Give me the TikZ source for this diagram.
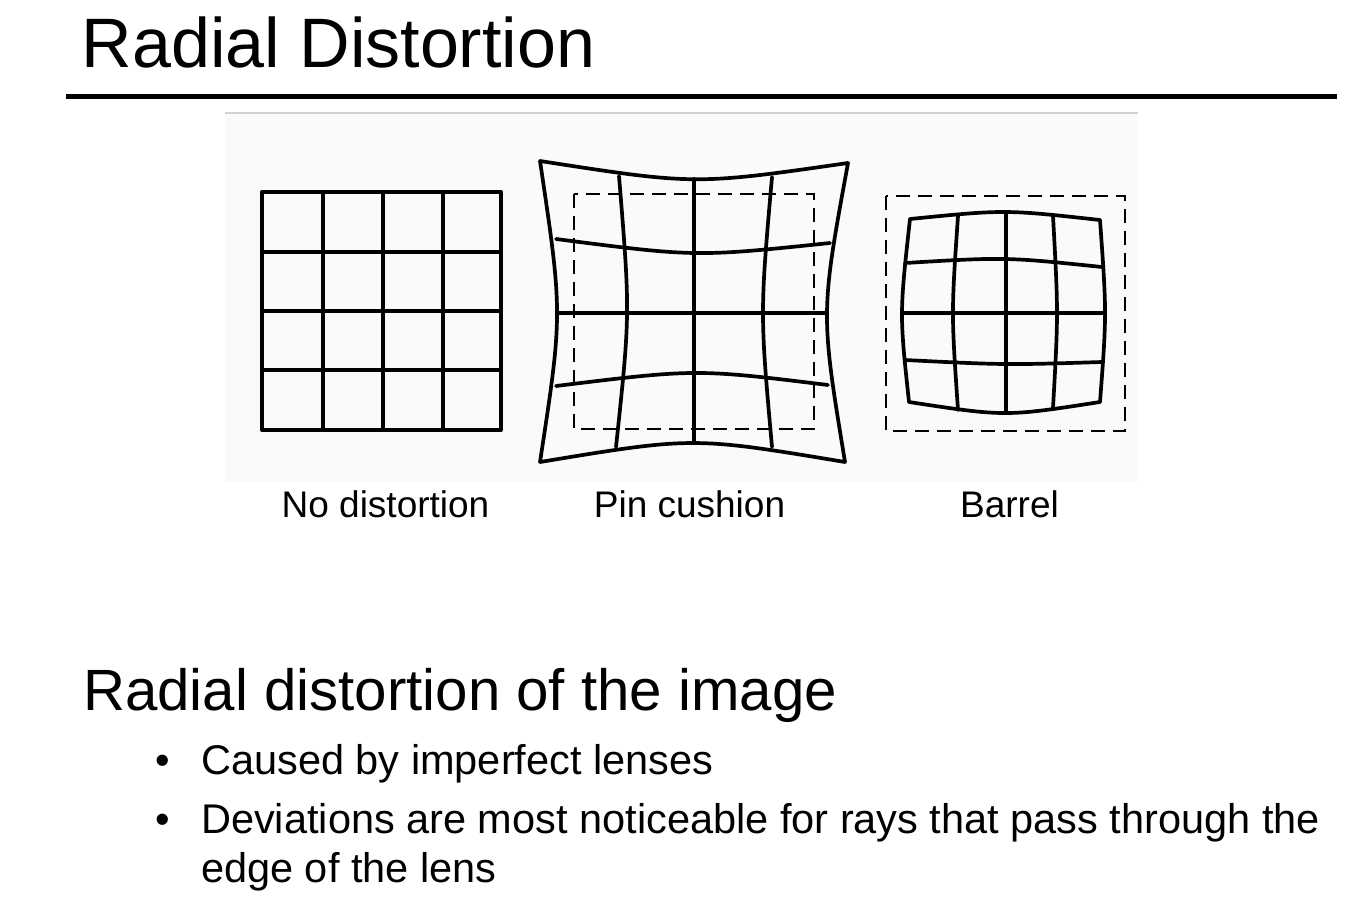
\documentclass[tikz,border=0pt]{standalone}
\usepackage{fontspec}
\setmainfont{Liberation Sans}
\newcommand{\ttlsize}{\fontsize{70}{84}\selectfont}
\newcommand{\subsize}{\fontsize{58.2}{70}\selectfont}
\newcommand{\itemsize}{\fontsize{41.5}{49}\selectfont}
\newcommand{\capsize}{\fontsize{37}{44}\selectfont}

\begin{document}
\begin{tikzpicture}[x=1pt,y=-1pt,
		txt/.style={inner sep=0pt,anchor=base west},
		gridline/.style={line width=3.7pt,line join=round,line cap=round},
		frame/.style={line width=1.9pt,dash pattern=on 14pt off 8pt}]
		\useasboundingbox[fill=white] (0,0) rectangle (1364,911);
		% heading and rule
		\node[txt] (title) at (81.5,67) {\ttlsize Radial Distortion};
		\draw[line width=5pt] (66,96) -- (1337,96);
		% the scanned picture
		\fill[fill=gray!4] (225,113) rectangle (1138,482);
		\draw[gray!35,line width=1.2pt] (225,113) -- (1138,113);
		% no distortion
		\draw[gridline,line width=4pt] (262,192) rectangle (501,430);
		\draw[gridline] (323,192) -- (323,430);
		\draw[gridline] (383,192) -- (383,430);
		\draw[gridline] (443,192) -- (443,430);
		\draw[gridline] (262,252) -- (501,252);
		\draw[gridline] (262,311) -- (501,311);
		\draw[gridline] (262,370) -- (501,370);
		% pin cushion
		\def\pinedge{(540,161) .. controls (695,185) .. (848,163) .. controls (820.5,313) .. (845,462) .. controls (693,436.7) .. (540,462) .. controls (562.7,313.5) .. (540,161) -- cycle}
		\draw[frame] (574,194) rectangle (814,429);
		\draw[gridline] \pinedge;
		\draw[gridline] (556,239) .. controls (695.7,257) .. (830,243);
		\draw[gridline] (557,313) -- (827,313);
		\draw[gridline] (556,386) .. controls (696,368.8) .. (828,385);
		\draw[gridline] (619,176) .. controls (630.2,313.5) .. (616,447);
		\draw[gridline] (694,179) -- (694,443);
		\draw[gridline] (772,177) .. controls (760,313.3) .. (772,447);
		% barrel
		\def\barreledge{(910,219) .. controls (1005,209.5) .. (1100,220) .. controls (1106.7,313.7) .. (1100,402) .. controls (1005.2,416.7) .. (909,402) .. controls (899.5,313.8) .. (910,219) -- cycle}
		\draw[frame] (886,196) rectangle (1125,431);
		\draw[gridline] \barreledge;
		\draw[gridline] (905,263) .. controls (1005.5,257) .. (1102,267);
		\draw[gridline] (902,313) -- (1105,313);
		\draw[gridline] (905,360) .. controls (1005.5,365) .. (1102,362);
		\draw[gridline] (958,216) .. controls (951.3,313) .. (958,410);
		\draw[gridline] (1006,212) -- (1006,413);
		\draw[gridline] (1053,216) .. controls (1058.3,313.3) .. (1053,408);
		% captions
		\node[inner sep=0pt,anchor=base] (capnone) at (385.5,517) {\capsize No distortion};
		\node[inner sep=0pt,anchor=base] (cappin) at (689.5,517) {\capsize Pin cushion};
		\node[inner sep=0pt,anchor=base] (capbarrel) at (1009.5,517) {\capsize Barrel};
		% text below
		\node[txt] (sub) at (83,710) {\subsize Radial distortion of the image};
		\node[inner sep=0pt,anchor=base] (dotone) at (163,774) {\itemsize •};
		\node[txt] (itemone) at (201,774) {\itemsize Caused by imperfect lenses};
		\node[inner sep=0pt,anchor=base] (dottwo) at (163,833) {\itemsize •};
		\node[txt] (itemtwo) at (201,833) {\itemsize Deviations are most noticeable for rays that pass through the};
		\node[txt] (itemtwob) at (201,882) {\itemsize edge of the lens};
	\end{tikzpicture}
\end{document}
